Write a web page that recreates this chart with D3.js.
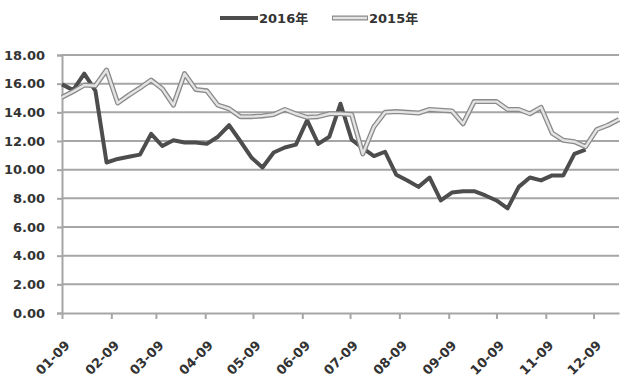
<!DOCTYPE html>
<html>
<head>
<meta charset="utf-8">
<script src="https://cdn.jsdelivr.net/npm/d3@7"></script>
<style>
  html, body { margin: 0; padding: 0; background: #fff; }
  svg text { font-family: "DejaVu Sans", "Noto Sans CJK SC", sans-serif; font-weight: bold; fill: #333; }
</style>
</head>
<body>
<svg id="chart" width="624" height="380"></svg>
<script>
// ---- data ----
const dates = ["01-09","01-16","01-23","01-30","02-06","02-13","02-20","02-27","03-06","03-13",
  "03-20","03-27","04-03","04-10","04-17","04-24","05-01","05-08","05-15","05-22",
  "05-29","06-05","06-12","06-19","06-26","07-03","07-10","07-17","07-24","07-31",
  "08-07","08-14","08-21","08-28","09-04","09-11","09-18","09-25","10-02","10-09",
  "10-16","10-23","10-30","11-06","11-13","11-20","11-27","12-04","12-11","12-18","12-25"];
const values2016 = [15.95,15.55,16.7,15.5,10.5,10.75,10.9,11.05,12.5,11.65,
  12.05,11.9,11.9,11.8,12.3,13.1,12.0,10.85,10.15,11.2,
  11.55,11.75,13.45,11.8,12.3,14.6,12.1,11.5,10.95,11.25,
  9.65,9.25,8.8,9.45,7.85,8.4,8.5,8.5,8.2,7.85,
  7.3,8.8,9.45,9.25,9.6,9.6,11.1,11.4,null,null,null];
const values2015 = [15.05,15.45,15.9,15.85,16.95,14.65,15.2,15.7,16.25,15.65,
  14.5,16.7,15.6,15.5,14.5,14.25,13.7,13.7,13.75,13.85,
  14.2,13.9,13.65,13.7,13.9,13.9,13.85,11.1,13.0,14.0,
  14.05,14.0,13.95,14.2,14.15,14.1,13.2,14.75,14.75,14.75,
  14.2,14.2,13.9,14.35,12.55,12.05,11.95,11.6,12.8,13.1,13.5];
const seriesNames = ["2016年", "2015年"];
const xTickLabels = ["01-09","02-09","03-09","04-09","05-09","06-09","07-09","08-09","09-09","10-09","11-09","12-09"];
const yTicks = [0,2,4,6,8,10,12,14,16,18];

// ---- layout ----
const svg = d3.select("#chart");
const mLeft = 62, mRight = 619, mTop = 55, mBottom = 313;
const parse = d3.timeParse("%Y-%m-%d");
const toDate = s => parse("2015-" + s);

const x = d3.scaleTime()
  .domain([toDate(dates[0]), toDate(dates[dates.length - 1])])
  .range([mLeft, mRight]);
const y = d3.scaleLinear().domain([0, 18]).range([mBottom, mTop]);

const gridColor = "#a6a6a6";

// gridlines
svg.append("g").selectAll("line")
  .data(yTicks.filter(d => d > 0))
  .join("line")
  .attr("x1", mLeft).attr("x2", mRight)
  .attr("y1", d => y(d)).attr("y2", d => y(d))
  .attr("stroke", gridColor).attr("stroke-width", 2);

// y axis
const yAxis = d3.axisLeft(y).tickValues(yTicks).tickFormat(d3.format(".2f")).tickSize(5).tickPadding(12);
const gy = svg.append("g").attr("transform", `translate(${mLeft},0)`).call(yAxis);
gy.select(".domain").attr("stroke", gridColor).attr("stroke-width", 2);
gy.selectAll(".tick line").attr("stroke", gridColor).attr("stroke-width", 2);
gy.selectAll(".tick text").attr("font-size", 13).attr("fill", "#333")
  .style("font-family", "'DejaVu Sans', sans-serif").style("font-weight", "bold");

// x axis
const xAxis = d3.axisBottom(x).tickValues(xTickLabels.map(toDate)).tickFormat((d, i) => xTickLabels[i]).tickSize(6).tickSizeOuter(0);
const gx = svg.append("g").attr("transform", `translate(0,${mBottom})`).call(xAxis);
gx.select(".domain").attr("stroke", gridColor).attr("stroke-width", 2);
gx.selectAll(".tick line").attr("stroke", gridColor).attr("stroke-width", 2);
gx.selectAll(".tick text")
  .attr("font-size", 13).attr("fill", "#333")
  .style("font-family", "'DejaVu Sans', sans-serif").style("font-weight", "bold")
  .attr("text-anchor", "end")
  .attr("dy", "0.35em")
  .attr("transform", "translate(5,30) rotate(-45)")
  .attr("y", 0);

// lines
const line = d3.line()
  .defined(d => d.v != null)
  .x(d => x(toDate(d.date)))
  .y(d => y(d.v));

const d2016 = dates.map((date, i) => ({ date, v: values2016[i] }));
const d2015 = dates.map((date, i) => ({ date, v: values2015[i] }));

svg.append("path").datum(d2016).attr("d", line)
  .attr("fill", "none").attr("stroke", "#4d4d4d").attr("stroke-width", 4)
  .attr("stroke-linejoin", "round");

svg.append("path").datum(d2015).attr("d", line)
  .attr("fill", "none").attr("stroke", "#8a8a8a").attr("stroke-width", 5)
  .attr("stroke-linejoin", "round");
svg.append("path").datum(d2015).attr("d", line)
  .attr("fill", "none").attr("stroke", "#e4e4e4").attr("stroke-width", 2.4)
  .attr("stroke-linejoin", "round");

// legend
const lg = svg.append("g");
lg.append("line").attr("x1", 220).attr("x2", 258).attr("y1", 18).attr("y2", 18)
  .attr("stroke", "#4d4d4d").attr("stroke-width", 4);
lg.append("text").attr("x", 259).attr("y", 23).attr("font-size", 13).text(seriesNames[0]);
lg.append("line").attr("x1", 332).attr("x2", 368).attr("y1", 18).attr("y2", 18)
  .attr("stroke", "#8a8a8a").attr("stroke-width", 5);
lg.append("line").attr("x1", 333).attr("x2", 367).attr("y1", 18).attr("y2", 18)
  .attr("stroke", "#e4e4e4").attr("stroke-width", 2.4);
lg.append("text").attr("x", 369).attr("y", 23).attr("font-size", 13).text(seriesNames[1]);
</script>
</body>
</html>
